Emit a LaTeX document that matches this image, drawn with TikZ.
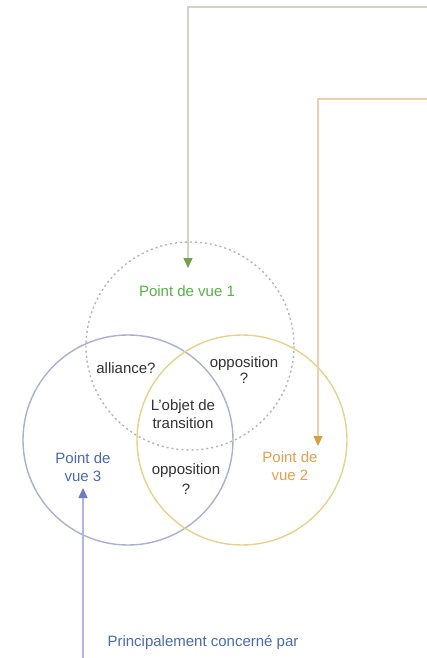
\documentclass[tikz,border=0pt]{standalone}
\usepackage{fontspec}
\setmainfont{Liberation Sans}
\usetikzlibrary{arrows.meta}
\definecolor{grntxt}{RGB}{86,178,72}
\definecolor{grnline}{RGB}{208,212,198}
\definecolor{grnhead}{RGB}{120,158,80}
\definecolor{orgtxt}{RGB}{226,160,80}
\definecolor{orgline}{RGB}{238,208,172}
\definecolor{orghead}{RGB}{214,160,64}
\definecolor{blutxt}{RGB}{74,106,172}
\definecolor{bluline}{RGB}{176,182,226}
\definecolor{bluhead}{RGB}{112,124,190}
\definecolor{darktxt}{RGB}{50,50,50}
\definecolor{dashcirc}{RGB}{180,180,180}
\definecolor{blucirc}{RGB}{170,176,206}
\definecolor{orgcirc}{RGB}{230,210,140}
\tikzset{
  lbl/.style={font=\fontsize{15}{18}\selectfont, align=center, inner sep=0pt},
  conn/.style={line width=1.4pt},
  circ/.style={line width=1.4pt},
}
\begin{document}
\begin{tikzpicture}[x=1pt,y=-1pt]
\useasboundingbox[fill=white] (0,0) rectangle (427,658);
% circles
\draw[circ, dashcirc, dash pattern=on 2pt off 3pt] (190,346) circle[radius=104];
\draw[circ, blucirc] (128,440) circle[radius=105];
\draw[circ, orgcirc] (242,440) circle[radius=105];
% labels
\node[lbl, text=grntxt] (p1) at (187,291) {Point de vue 1};
\node[lbl, text=darktxt] (all) at (126,368) {alliance?};
\node[lbl, text=darktxt, font=\fontsize{15}{16}\selectfont] (opp1) at (244,370) {opposition\\?};
\node[lbl, text=darktxt] (obj) at (183,414) {L'objet de\\transition};
\node[lbl, text=darktxt, font=\fontsize{15}{20}\selectfont] (opp2) at (186,479) {opposition\\?};
\node[lbl, text=blutxt] (p3) at (83,467) {Point de\\vue 3};
\node[lbl, text=orgtxt] (p2) at (290,466) {Point de\\vue 2};
\node[lbl, text=blutxt] (pc) at (203,643) {Principalement concern\'e par};
% connector coordinates
\coordinate (g0) at (430,7);
\coordinate (g1) at (188,7);
\coordinate (gt) at (188,268);
\coordinate (o0) at (430,99);
\coordinate (o1) at (318,99);
\coordinate (ot) at (318,446);
\coordinate (b0) at (83,662);
\coordinate (bt) at (83,488);
% connectors
\draw[conn, grnline, -{Triangle[length=10pt,width=9pt,color=grnhead]}] (g0) -- (g1) -- (gt);
\draw[conn, orgline, -{Triangle[length=10pt,width=9pt,color=orghead]}] (o0) -- (o1) -- (ot);
\draw[conn, bluline, -{Triangle[length=10pt,width=9pt,color=bluhead]}] (b0) -- (bt);
\end{tikzpicture}
\end{document}
